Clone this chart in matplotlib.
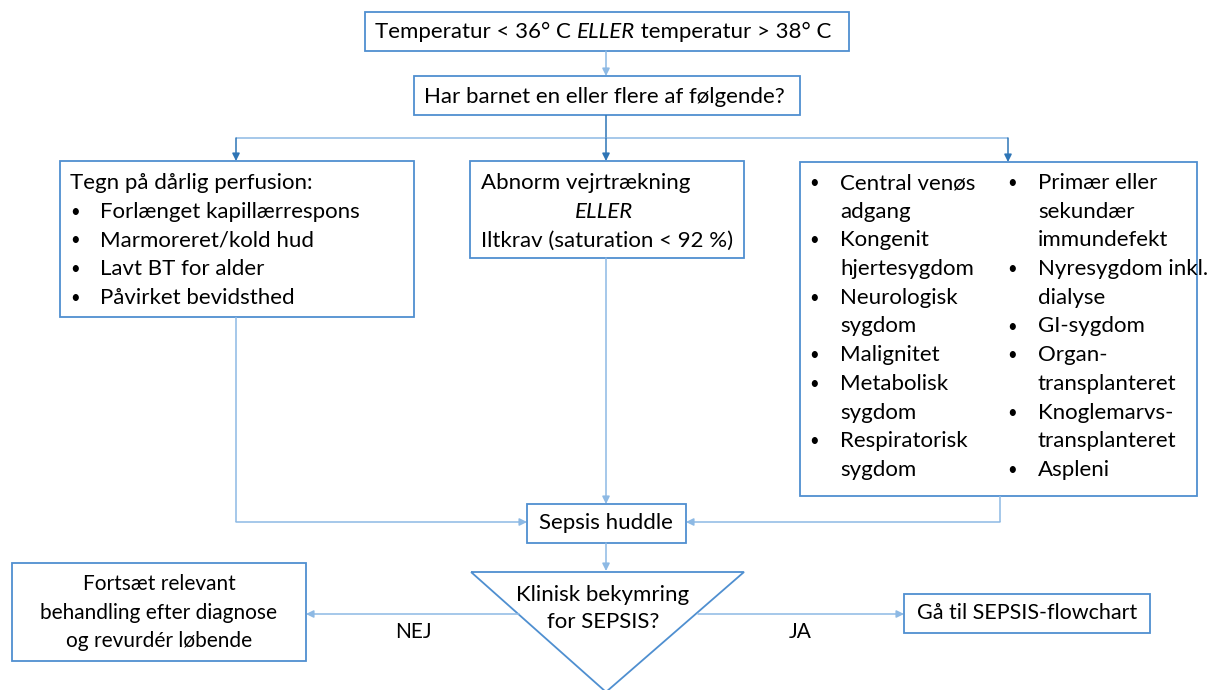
import matplotlib.pyplot as plt
from matplotlib.patches import Rectangle, Polygon

plt.rcParams['font.family'] = ['Lato', 'DejaVu Sans']

# --- texts ---
top_parts = ["Temperatur < 36° C ", "ELLER", " temperatur > 38° C"]
question = "Har barnet en eller flere af følgende?"
perfusion_title = "Tegn på dårlig perfusion:"
perfusion_items = ["Forlænget kapillærrespons", "Marmoreret/kold hud",
                   "Lavt BT for alder", "Påvirket bevidsthed"]
breathing_lines = ["Abnorm vejrtrækning", "ELLER", "Iltkrav (saturation < 92 %)"]
risk_left = [["Central venøs", "adgang"], ["Kongenit", "hjertesygdom"],
             ["Neurologisk", "sygdom"], ["Malignitet"], ["Metabolisk", "sygdom"],
             ["Respiratorisk", "sygdom"]]
risk_right = [["Primær eller", "sekundær", "immundefekt"],
              ["Nyresygdom inkl.", "dialyse"], ["GI-sygdom"],
              ["Organ-", "transplanteret"], ["Knoglemarvs-", "transplanteret"],
              ["Aspleni"]]
huddle = "Sepsis huddle"
decision = ["Klinisk bekymring", "for SEPSIS?"]
no_text = ["Fortsæt relevant", "behandling efter diagnose", "og revurdér løbende"]
yes_text = "Gå til SEPSIS-flowchart"
no_label, yes_label = "NEJ", "JA"

BOX = "#4F8FD0"
LIGHT = "#8DB9E4"
DARK = "#2E75B6"
FS = 16
LS = 28.7

fig = plt.figure(figsize=(12.1, 6.9), dpi=100)
ax = fig.add_axes([0, 0, 1, 1])
ax.set_xlim(0, 1210)
ax.set_ylim(690, 0)
ax.axis("off")


def box(x0, y0, x1, y1):
    ax.add_patch(Rectangle((x0, y0), x1 - x0, y1 - y0, fill=False,
                           edgecolor=BOX, lw=1.3))


def line(xs, ys, color=LIGHT):
    ax.plot(xs, ys, color=color, lw=1.1, solid_capstyle="butt")


def arrow(x0, y0, x1, y1, color=LIGHT):
    ax.annotate("", xy=(x1, y1), xytext=(x0, y0),
                arrowprops=dict(arrowstyle="-|>", color=color, lw=1.1,
                                mutation_scale=11, shrinkA=0, shrinkB=0))


def txt(x, y, s, ha="left", size=FS, **kw):
    ax.text(x, y, s, ha=ha, va="center", fontsize=size, color="black", **kw)


def bullet(x, y):
    ax.text(x, y, "•", ha="center", va="center", fontsize=12, color="black")


# top box
box(365, 12, 849, 51)
t = ax.text(375, 32, top_parts[0], ha="left", va="center", fontsize=FS)
t = ax.annotate(top_parts[1], xycoords=t, xy=(1, 0.5), va="center",
                fontsize=FS, style="italic")
ax.annotate(top_parts[2], xycoords=t, xy=(1, 0.5), va="center", fontsize=FS)
arrow(606, 51, 606, 76)

# question box
box(414, 76, 800, 115)
txt(424, 97, question)
line([606, 606], [115, 138], DARK)
line([236, 1008], [138, 138], LIGHT)
arrow(236, 138, 236, 161, DARK)
arrow(606, 138, 606, 161, DARK)
arrow(1008, 138, 1008, 162, DARK)

# perfusion box
box(60, 161, 414, 317)
txt(70, 183, perfusion_title)
for i, item in enumerate(perfusion_items):
    y = 183 + (i + 1) * LS
    bullet(75, y)
    txt(100, y, item)

# breathing box
box(470, 161, 744, 258)
txt(481, 183, breathing_lines[0])
txt(604, 183 + LS, breathing_lines[1], ha="center", style="italic")
txt(481, 183 + 2 * LS, breathing_lines[2])

# risk box
box(800, 162, 1197, 496)
for col, (bx, tx) in zip([risk_left, risk_right], [(814, 840), (1012, 1038)]):
    row = 0
    for item in col:
        bullet(bx, 183 + row * LS)
        for part in item:
            txt(tx, 183 + row * LS, part)
            row += 1

# connectors into huddle
line([236, 236], [317, 522])
arrow(236, 522, 527, 522)
arrow(606, 258, 606, 504)
line([1000, 1000], [496, 522])
arrow(1000, 522, 686, 522)

# huddle box
box(527, 504, 686, 543)
txt(606, 523, huddle, ha="center")
arrow(606, 543, 606, 571)

# decision triangle
ax.add_patch(Polygon([(471, 572), (744, 572), (606, 692)], closed=True,
                     fill=False, edgecolor=BOX, lw=1.3))
txt(603, 595, decision[0], ha="center")
txt(603, 622, decision[1], ha="center")

# NO branch
arrow(519, 614, 306, 614)
txt(413, 632, no_label, ha="center", size=15)
box(12, 563, 306, 661)
for i, s in enumerate(no_text):
    txt(159, 584 + i * LS, s, ha="center", size=15)

# YES branch
arrow(698, 614, 904, 614)
txt(800, 632, yes_label, ha="center", size=15)
box(904, 594, 1150, 633)
txt(1027, 613, yes_text, ha="center", size=15.5)

fig.savefig("out.png", dpi=100)
